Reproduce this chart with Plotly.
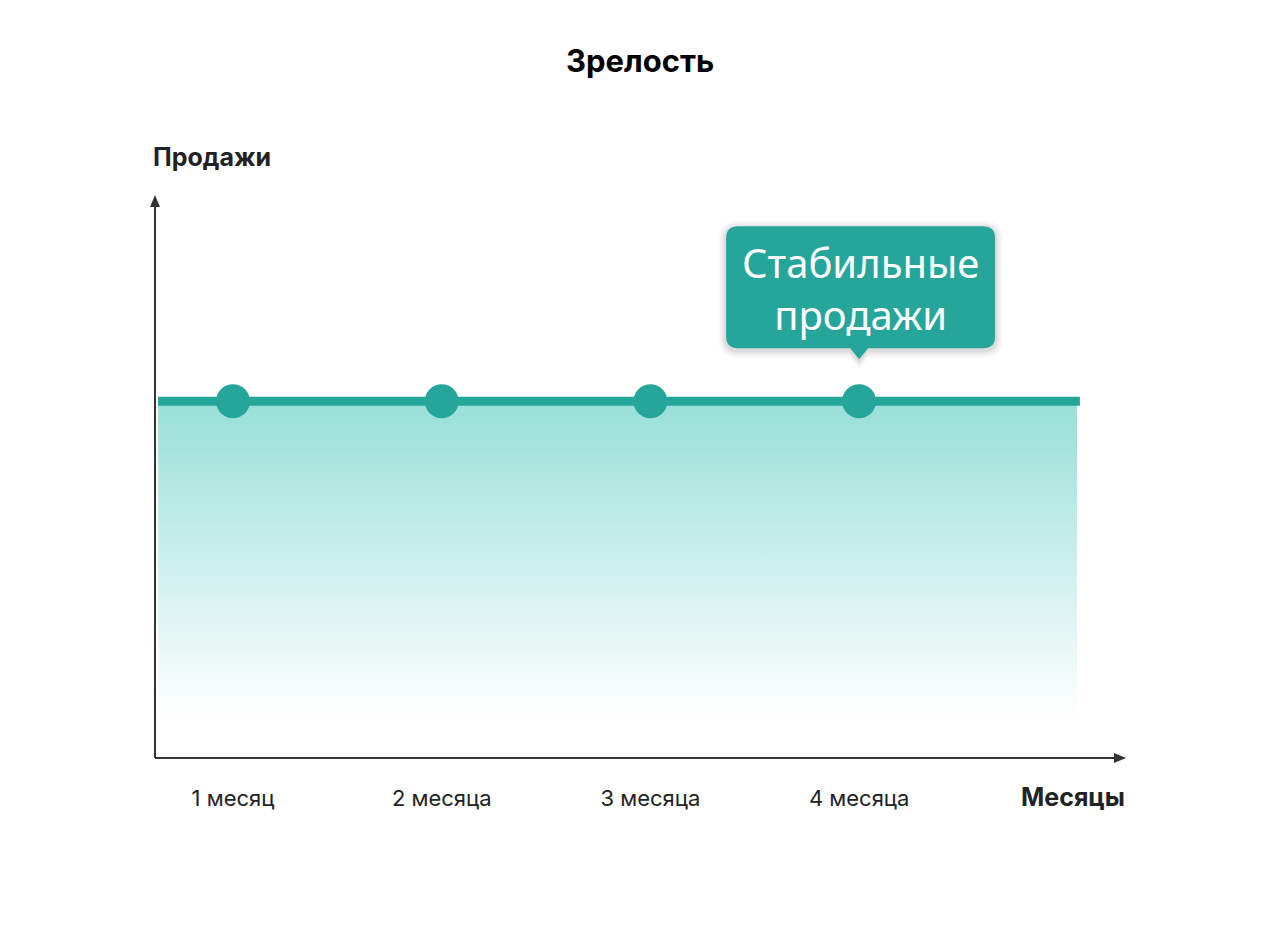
import plotly.graph_objects as go

# ---- data ----
months = [1, 2, 3, 4]
month_labels = ["1 месяц", "2 месяца", "3 месяца", "4 месяца"]
sales = [63.6, 63.6, 63.6, 63.6]
line_x = [0.641, 5.058]          # extent of the flat sales line
fill_x = [0.641, 5.044]          # extent of the gradient area
fill_floor = 7                   # where the gradient fades out
title_text = "Зрелость"
y_title = "Продажи"
x_title = "Месяцы"
callout_text = "Стабильные<br>продажи"

TEAL = "#26A69A"
FILL_TOP = "#98DFD8"
DARK = "#222222"
AXIS = "#333333"

fig = go.Figure()

# gradient area
fig.add_trace(go.Scatter(
    x=[fill_x[0], fill_x[1], fill_x[1], fill_x[0], fill_x[0]],
    y=[sales[0], sales[-1], fill_floor, fill_floor, sales[0]],
    mode="none", fill="toself",
    fillgradient=dict(type="vertical",
                      colorscale=[[0, "rgba(255,255,255,1)"], [1, FILL_TOP]]),
    hoverinfo="skip", showlegend=False,
))
# flat line
fig.add_trace(go.Scatter(
    x=line_x, y=[sales[0], sales[-1]], mode="lines",
    line=dict(color=TEAL, width=9), hoverinfo="skip", showlegend=False,
))
# points
fig.add_trace(go.Scatter(
    x=months, y=sales, mode="markers",
    marker=dict(color=TEAL, size=34, line=dict(width=0)),
    showlegend=False,
))

# axes with arrows (pixel-sized shapes anchored to paper)
shapes = [
    dict(type="line", xref="paper", yref="paper", x0=0, x1=0, y0=0, y1=1,
         line=dict(color=AXIS, width=2), layer="above"),
    dict(type="line", xref="paper", yref="paper", x0=0, x1=0.99, y0=0, y1=0,
         line=dict(color=AXIS, width=2), layer="above"),
    dict(type="path", xref="paper", yref="paper", xsizemode="pixel", ysizemode="pixel",
         xanchor=0, yanchor=1, path="M -5,-10 L 5,-10 L 0,2 Z",
         fillcolor=AXIS, line=dict(width=0), layer="above"),
    dict(type="path", xref="paper", yref="paper", xsizemode="pixel", ysizemode="pixel",
         xanchor=1, yanchor=0, path="M -11,-5 L -11,5 L 1,0 Z",
         fillcolor=AXIS, line=dict(width=0), layer="above"),
]

# callout bubble anchored to 4th point
r = 12
L, R, B, T = -133, 136, 53, 175
def rrect(L, R, B, T, r):
    return (f"M {L+r},{T} L {R-r},{T} Q {R},{T} {R},{T-r} L {R},{B+r} Q {R},{B} {R-r},{B} "
            f"L 9,{B} L 0,{B-11} L -9,{B} "
            f"L {L+r},{B} Q {L},{B} {L},{B+r} L {L},{T-r} Q {L},{T} {L+r},{T} Z")
for i, (g, a) in enumerate([(8, 0.02), (6, 0.03), (4, 0.04), (2, 0.05)]):
    shapes.append(dict(type="path", xref="x", yref="y", xsizemode="pixel", ysizemode="pixel",
                       xanchor=months[3], yanchor=sales[3],
                       path=rrect(L - g, R + g, B - g - 2, T + g - 2, r + g),
                       fillcolor=f"rgba(0,0,0,{a})", line=dict(width=0), layer="above"))
shapes.append(dict(type="path", xref="x", yref="y", xsizemode="pixel", ysizemode="pixel",
                   xanchor=months[3], yanchor=sales[3], path=rrect(L, R, B, T, r),
                   fillcolor=TEAL, line=dict(width=0), layer="above"))

annotations = [
    dict(text=f"<b>{title_text}</b>", xref="paper", yref="paper", x=0.5, y=1,
         yshift=137, showarrow=False, font=dict(family="Inter", size=31, color="#000"),
         xanchor="center", yanchor="middle"),
    dict(text=f"<b>{y_title}</b>", xref="paper", yref="paper", x=0, y=1,
         xshift=-4, yshift=40, showarrow=False, font=dict(family="Inter", size=25, color=DARK),
         xanchor="left", yanchor="middle"),
    dict(text=f"<b>{x_title}</b>", xref="paper", yref="paper", x=1, y=0,
         xshift=2, yshift=-39, showarrow=False, font=dict(family="Inter", size=25, color=DARK),
         xanchor="right", yanchor="middle"),
    dict(text=callout_text, xref="x", yref="y", x=months[3], y=sales[3],
         xshift=1, yshift=113, showarrow=False,
         font=dict(family="Noto Sans", size=40, color="white"),
         xanchor="center", yanchor="middle", align="center"),
]

fig.update_layout(
    width=1280, height=942,
    margin=dict(l=147, r=163, t=189, b=192),
    paper_bgcolor="white", plot_bgcolor="white",
    shapes=shapes, annotations=annotations,
    xaxis=dict(range=[0.6263, 5.274], tickvals=months, ticktext=month_labels,
               showgrid=False, zeroline=False, showline=False, ticks="",
               ticklabelstandoff=25,
               tickfont=dict(family="Inter", size=22, color=DARK), fixedrange=True),
    yaxis=dict(range=[0, 100], showgrid=False, zeroline=False, showline=False,
               showticklabels=False, ticks="", fixedrange=True),
    showlegend=False,
)

fig.write_html("out.html")
